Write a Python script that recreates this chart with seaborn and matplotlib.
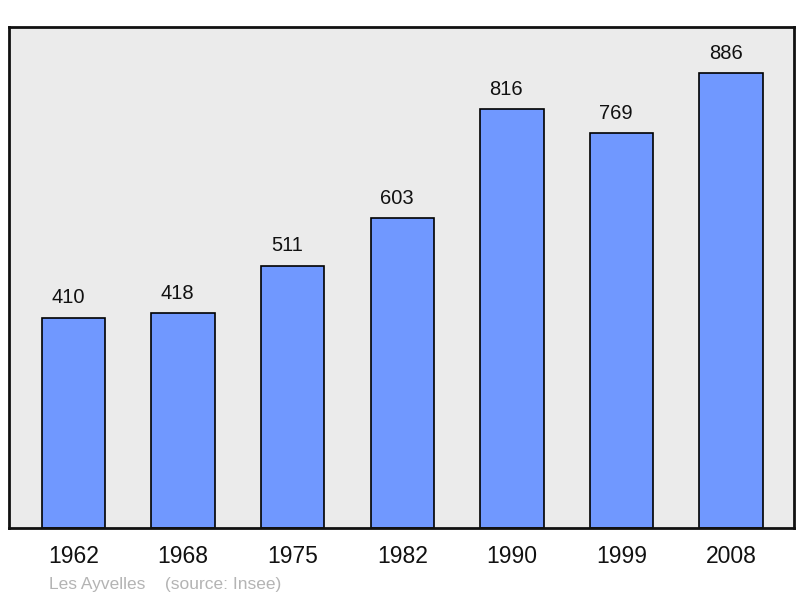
import matplotlib
matplotlib.use('Agg')
import matplotlib.pyplot as plt
import seaborn as sns
import pandas as pd

# Population data
years = ['1962', '1968', '1975', '1982', '1990', '1999', '2008']
population = [410, 418, 511, 603, 816, 769, 886]
footer = 'Les Ayvelles    (source: Insee)'

sns.set_style('white')
plt.rcParams['font.family'] = ['Liberation Sans', 'DejaVu Sans']

df = pd.DataFrame({'year': years, 'pop': population})

fig = plt.figure(figsize=(8, 5.98), dpi=100)
ax = fig.add_axes([0.011, 0.117, 0.981, 0.838])
ax.set_facecolor('#ebebeb')

sns.barplot(data=df, x='year', y='pop', color='#7098ff', saturation=1,
            width=0.58, edgecolor='black', linewidth=1.2, ax=ax)

# value labels, sitting a bit left of the bar centre like the original
for i, v in enumerate(population):
    ax.text(i - 0.05, v + 20, str(v), ha='center', va='bottom', fontsize=14.5, color='#111111')

ax.set_xlim(-0.59, 6.57)
ax.set_ylim(0, 976)
ax.set_yticks([])
ax.set_xlabel('')
ax.set_ylabel('')
ax.tick_params(axis='x', length=0, labelsize=16.5, pad=12, colors='#111111')
for s in ax.spines.values():
    s.set_visible(True)
    s.set_linewidth(2)
    s.set_color('#111111')

fig.text(49 / 800, 1 - 584 / 598, footer, fontsize=12.5, color='#b4b4b4',
         ha='left', va='center')

fig.savefig('out.png', dpi=100)
